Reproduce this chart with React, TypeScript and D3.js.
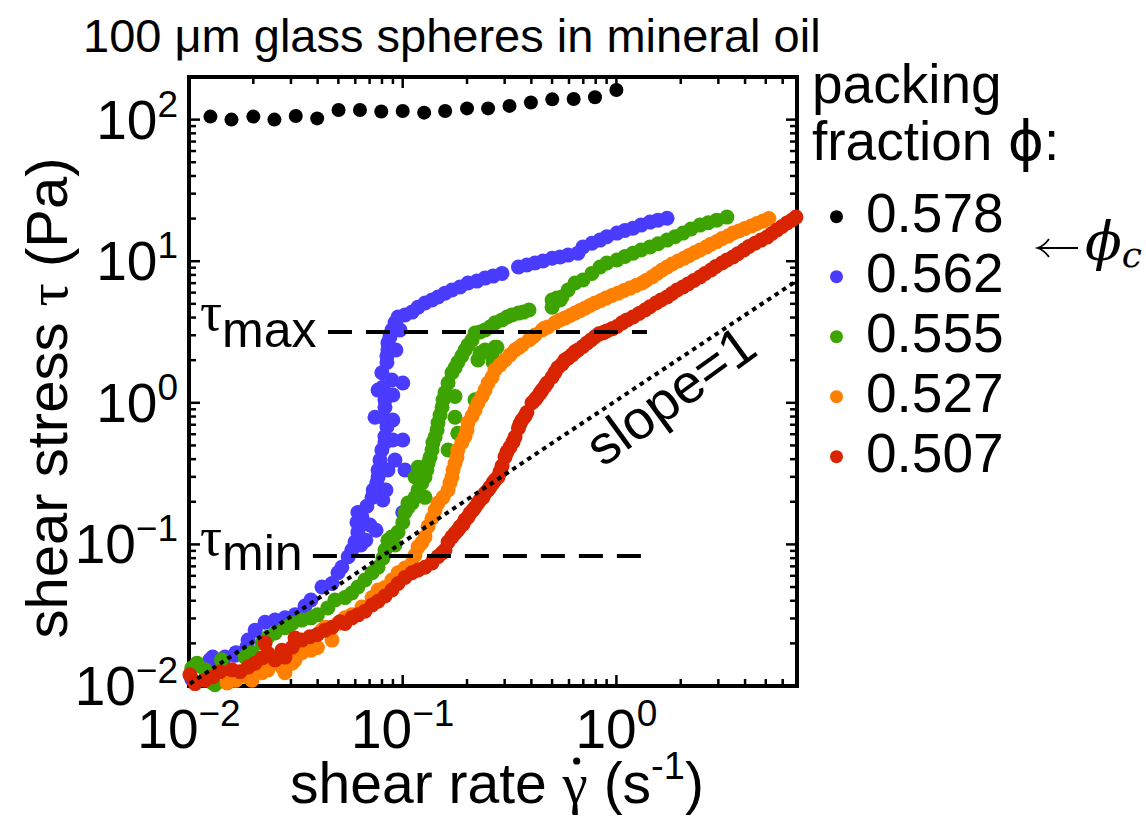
import React, { useLayoutEffect, useRef, useState } from 'react';
import * as d3 from 'd3';

// Flow curves: shear stress (Pa) against shear rate (1/s), one array per packing fraction.
const phi578: [number, number][] = [
  [0.0126, 105], [0.0158, 100], [0.02, 105], [0.0251, 100], [0.0316, 106], [0.0398, 102],
  [0.0501, 117], [0.0631, 117], [0.0794, 114], [0.1, 115], [0.126, 112], [0.158, 115],
  [0.2, 120], [0.251, 120], [0.316, 125], [0.398, 132], [0.501, 139], [0.631, 140],
  [0.794, 144], [1.0, 162],
];

const phi562: [number, number][] = [
  [0.0103, 0.0112], [0.0112, 0.014], [0.01254, 0.0153], [0.0129, 0.016], [0.01474, 0.016],
  [0.01642, 0.0165], [0.0166, 0.0172], [0.0187, 0.019], [0.0189, 0.0211], [0.0204, 0.0248],
  [0.02269, 0.0282], [0.02526, 0.0292], [0.02814, 0.0303], [0.03134, 0.0318], [0.0349, 0.0367],
  [0.0372, 0.0405], [0.0419, 0.05], [0.0467, 0.053], [0.0498, 0.063], [0.0519, 0.069],
  [0.0556, 0.0818], [0.0578, 0.0913], [0.0598, 0.104], [0.0617, 0.122], [0.0611, 0.143],
  [0.0644, 0.156], [0.0617, 0.168], [0.0679, 0.186], [0.0719, 0.215], [0.0728, 0.242],
  [0.0757, 0.272], [0.0767, 0.299], [0.0767, 0.335], [0.0783, 0.394], [0.0799, 0.464],
  [0.0826, 0.523], [0.0826, 0.578], [0.0844, 0.677], [0.0807, 0.79], [0.0742, 0.79],
  [0.0826, 0.93], [0.0826, 1.05], [0.0767, 1.23], [0.0807, 1.29], [0.0799, 1.63],
  [0.0844, 1.93], [0.0844, 2.14], [0.0853, 2.36], [0.0853, 2.65], [0.0872, 2.92],
  [0.089, 3.27], [0.092, 3.67], [0.0951, 4.04], [0.1025, 4.17], [0.1106, 4.37],
  [0.118, 4.74], [0.1272, 5.07], [0.1371, 5.32], [0.1463, 5.59], [0.1578, 5.95],
  [0.17, 6.26], [0.1854, 6.57], [0.202, 7.02], [0.2225, 7.24], [0.2427, 7.6],
  [0.2647, 7.85], [0.2915, 8.2], [0.348, 9.1], [0.381, 9.4], [0.416, 9.71],
  [0.4535, 10.04], [0.5, 10.5], [0.545, 10.7], [0.594, 11.05], [0.661, 11.4],
  [0.697, 12.6], [0.768, 13.4], [0.838, 14.1], [0.902, 14.9], [1.006, 15.8],
  [1.097, 16.5], [1.196, 17.1], [1.304, 18.0], [1.436, 18.9], [1.566, 19.5], [1.726, 20.1],
  [0.0899, 0.757], [0.0899, 0.546], [0.092, 0.394], [0.0853, 0.335], [0.0835, 0.242],
  [0.0807, 0.206], [0.075, 0.126], [0.0672, 0.107], [0.0703, 0.137], [0.0637, 0.0991],
  [0.089, 1.45], [0.0899, 1.136], [0.0929, 2.36], [0.0971, 3.27], [0.1001, 1.38],
  [0.1025, 0.335], [0.1001, 0.168], [0.1001, 0.546],
];

const phi555: [number, number][] = [
  [0.0103, 0.0134], [0.0109, 0.0145], [0.01188, 0.013], [0.0129, 0.0105], [0.01323, 0.0102],
  [0.0142, 0.0153], [0.0152, 0.0124], [0.01642, 0.011], [0.01829, 0.016], [0.0197, 0.0172],
  [0.022, 0.0201], [0.0234, 0.0222], [0.02526, 0.0237], [0.02814, 0.0258], [0.0304, 0.0276],
  [0.0337, 0.0292], [0.0372, 0.0303], [0.0399, 0.0318], [0.0446, 0.0356], [0.0482, 0.0405],
  [0.0537, 0.0421], [0.0578, 0.0454], [0.0617, 0.05], [0.0666, 0.0561], [0.0719, 0.063],
  [0.0767, 0.069], [0.0808, 0.08], [0.0826, 0.0913], [0.0853, 0.107], [0.089, 0.113],
  [0.0951, 0.122], [0.1001, 0.143], [0.1025, 0.168], [0.1058, 0.182], [0.1106, 0.196],
  [0.1142, 0.215], [0.118, 0.242], [0.123, 0.272], [0.1272, 0.299], [0.1297, 0.335],
  [0.1314, 0.373], [0.1342, 0.413], [0.1371, 0.464], [0.1385, 0.523], [0.1417, 0.573],
  [0.1448, 0.643], [0.1463, 0.722], [0.1495, 0.82], [0.1528, 0.93], [0.1545, 1.05],
  [0.1578, 1.18], [0.163, 1.38], [0.17, 1.63], [0.1757, 1.77], [0.181, 1.93],
  [0.189, 2.14], [0.1957, 2.36], [0.202, 2.56], [0.211, 2.78], [0.218, 3.11],
  [0.23, 3.16], [0.2427, 3.27], [0.2562, 3.43], [0.2704, 3.67], [0.2915, 3.85],
  [0.3077, 4.04], [0.3245, 4.17], [0.348, 4.3], [0.367, 4.37], [0.39, 4.52],
  [0.2427, 2.36], [0.262, 2.14], [0.225, 2.01], [0.2704, 2.47], [0.1757, 1.11],
  [0.1757, 0.79], [0.218, 1.05], [0.181, 0.61], [0.163, 0.464], [0.118, 0.35],
  [0.1142, 0.299], [0.1058, 0.196], [0.1272, 0.215], [0.23, 2.25], [0.276, 2.47],
  [0.265, 1.93], [0.092, 0.099],
  [0.5, 5.32], [0.5, 4.74], [0.527, 5.49], [0.545, 5.32], [0.556, 5.59], [0.594, 6.26],
  [0.64, 7.02], [0.697, 7.37], [0.768, 8.2], [0.838, 9.1], [0.902, 9.71], [1.006, 10.2],
  [1.097, 10.8], [1.196, 11.4], [1.304, 12.0], [1.436, 12.6], [1.566, 13.3], [1.726, 14.1],
  [1.881, 14.9], [2.049, 15.8], [2.234, 16.9], [2.46, 18.0], [2.69, 18.7], [2.95, 19.5],
  [3.29, 20.5],
];

const phi527: [number, number][] = [
  [0.0151, 0.0105], [0.0166, 0.011], [0.0187, 0.0116], [0.0199, 0.0124], [0.0197, 0.011],
  [0.022, 0.0124], [0.0234, 0.013], [0.0272, 0.0136], [0.02814, 0.0124], [0.0304, 0.0145],
  [0.03134, 0.0153], [0.0337, 0.0172], [0.0372, 0.0179], [0.0399, 0.0187], [0.0419, 0.0248],
  [0.04328, 0.026], [0.0467, 0.0211], [0.0498, 0.0276], [0.0537, 0.0303], [0.0578, 0.0318],
  [0.0644, 0.0361], [0.0719, 0.0421], [0.0767, 0.0476], [0.0826, 0.0496], [0.089, 0.0561],
  [0.0951, 0.063], [0.1025, 0.068], [0.1106, 0.0736], [0.1142, 0.0842], [0.118, 0.096],
  [0.123, 0.103], [0.1272, 0.113], [0.1314, 0.134], [0.1371, 0.153], [0.1417, 0.175],
  [0.1463, 0.196], [0.1545, 0.215], [0.163, 0.242], [0.1664, 0.272], [0.17, 0.299],
  [0.172, 0.335], [0.1757, 0.373], [0.1795, 0.413], [0.181, 0.464], [0.189, 0.523],
  [0.1957, 0.578], [0.2, 0.643], [0.202, 0.722], [0.211, 0.806], [0.218, 0.889],
  [0.225, 0.998], [0.235, 1.11], [0.2427, 1.23], [0.2508, 1.38], [0.262, 1.52],
  [0.2704, 1.71], [0.2853, 1.85], [0.3011, 2.01], [0.3178, 2.18], [0.3354, 2.36],
  [0.35, 2.46], [0.3617, 2.56], [0.39, 2.78], [0.405, 2.91], [0.416, 3.01],
  [0.449, 3.27], [0.4635, 3.38], [0.478, 3.43], [0.516, 3.67], [0.545, 3.85],
  [0.575, 3.97], [0.607, 4.14], [0.64, 4.3], [0.676, 4.48], [0.713, 4.66],
  [0.752, 4.87], [0.794, 5.07], [0.847, 5.28], [0.893, 5.49], [0.953, 5.72],
  [1.017, 5.95], [1.085, 6.21], [1.158, 6.46], [1.235, 6.74], [1.318, 7.02],
  [1.376, 7.31], [1.467, 7.73], [1.549, 8.19], [1.635, 8.66], [1.726, 9.1],
  [1.821, 9.55], [1.943, 10.04], [2.072, 10.5], [2.186, 10.96], [2.33, 11.52],
  [2.46, 12.0], [2.63, 12.58], [2.77, 13.2], [2.95, 13.76], [3.12, 14.45],
  [3.33, 15.05], [3.51, 15.8], [3.74, 16.33], [3.99, 17.0], [4.27, 17.7],
  [4.55, 18.45], [4.85, 19.2], [5.17, 20.0],
];

const phi507: [number, number][] = [
  [0.0101, 0.012], [0.01067, 0.0104], [0.01188, 0.011], [0.0129, 0.0116], [0.01397, 0.0126],
  [0.0159, 0.013], [0.01733, 0.0126], [0.0189, 0.0136], [0.02037, 0.0145], [0.022, 0.0158],
  [0.02269, 0.0201], [0.0234, 0.017], [0.02526, 0.0153], [0.0272, 0.0179], [0.02814, 0.016],
  [0.0304, 0.0188], [0.03134, 0.0218], [0.0337, 0.0211], [0.0368, 0.0223], [0.0399, 0.0231],
  [0.04328, 0.0248], [0.0467, 0.026], [0.0509, 0.0284], [0.0537, 0.0276], [0.0578, 0.0303],
  [0.0617, 0.0318], [0.0666, 0.0337], [0.0719, 0.0373], [0.0767, 0.0397], [0.0826, 0.0432],
  [0.089, 0.0476], [0.0951, 0.053], [0.1025, 0.0585], [0.1106, 0.063], [0.118, 0.0659],
  [0.1272, 0.069], [0.1371, 0.074], [0.1463, 0.082], [0.1528, 0.087], [0.1578, 0.0913],
  [0.163, 0.104], [0.17, 0.113], [0.1757, 0.12], [0.181, 0.126], [0.1854, 0.133],
  [0.1915, 0.139], [0.1957, 0.149], [0.202, 0.156], [0.2065, 0.166], [0.2132, 0.175],
  [0.218, 0.183], [0.225, 0.196], [0.23, 0.206], [0.2375, 0.215], [0.2427, 0.23],
  [0.2508, 0.242], [0.2562, 0.254], [0.2647, 0.272], [0.2704, 0.285], [0.2793, 0.299],
  [0.2853, 0.325], [0.2915, 0.358], [0.3011, 0.415], [0.3077, 0.45], [0.3178, 0.488],
  [0.3284, 0.53], [0.3354, 0.573], [0.348, 0.662], [0.354, 0.71], [0.3617, 0.757],
  [0.3736, 0.806], [0.381, 0.854], [0.403, 1.0], [0.416, 1.05], [0.425, 1.095],
  [0.439, 1.17], [0.449, 1.23], [0.4635, 1.31], [0.474, 1.38], [0.5, 1.52],
  [0.516, 1.64], [0.532, 1.77], [0.557, 1.88], [0.575, 2.01], [0.594, 2.07],
  [0.62, 2.18], [0.64, 2.29], [0.661, 2.36], [0.697, 2.5], [0.729, 2.65],
  [0.76, 2.78], [0.794, 2.93], [0.829, 3.07], [0.865, 3.12], [0.902, 3.22],
  [0.953, 3.33], [1.006, 3.46], [1.063, 3.67], [1.121, 3.85], [1.196, 4.04],
  [1.276, 4.27], [1.361, 4.52], [1.436, 4.77], [1.532, 5.07], [1.617, 5.32],
  [1.726, 5.59], [1.821, 5.91], [1.922, 6.26], [2.049, 6.57], [2.163, 6.9],
  [2.305, 7.31], [2.46, 7.73], [2.6, 8.19], [2.77, 8.66], [2.92, 9.17],
  [3.12, 9.71], [3.29, 10.2], [3.51, 10.7], [3.7, 11.3], [3.95, 12.0],
  [4.17, 12.7], [4.45, 13.4], [4.75, 14.1], [5.07, 14.8], [5.34, 15.7],
  [5.64, 16.6], [5.96, 17.6], [6.28, 18.6], [6.63, 19.5], [6.92, 20.5],
];

const packingLabels = ['0.578', '0.562', '0.555', '0.527', '0.507'];
const seriesColors = ['#000000', '#4a3cff', '#3da300', '#ff8000', '#d82400'];
const seriesData = [phi578, phi562, phi555, phi527, phi507];

// Reference guides
const rateDomain: [number, number] = [0.01, 7];
const stressDomain: [number, number] = [0.01, 200];
const rateMajor = [0.01, 0.1, 1];
const stressMajor = [0.01, 0.1, 1, 10, 100];
const tauMax = 3.16;
const tauMin = 0.0828;
const tauMaxSpan: [number, number] = [0.0447, 1.39];
const tauMinSpan: [number, number] = [0.038, 1.34];
const slopeLine: [number, number][] = [[0.0101, 0.0104], [7.0, 7.3]];

const SANS = 'Liberation Sans, Arial, Helvetica, sans-serif';
const SERIF = 'Liberation Serif, Times New Roman, serif';

const left = 189, right = 797, top = 77, bottom = 686;

const expLabel = (v: number) => {
  const e = Math.round(Math.log10(v));
  return e < 0 ? '\u2212' + -e : String(e);
};

export default function App() {
  const x = d3.scaleLog().domain(rateDomain).range([left, right]);
  const y = d3.scaleLog().domain(stressDomain).range([bottom, top]);

  const isMajor = (v: number, majors: number[]) => majors.some((m) => Math.abs(m - v) / m < 1e-6);
  const xMinor = x.ticks().filter((v) => !isMajor(v, rateMajor) && v < rateDomain[1] * 0.999);
  const yMinor = y.ticks().filter((v) => !isMajor(v, stressMajor) && v < stressDomain[1] * 0.999);

  const gammaRef = useRef<SVGTSpanElement>(null);
  const [dotX, setDotX] = useState(566);
  useLayoutEffect(() => {
    if (gammaRef.current) {
      const b = gammaRef.current.getBBox();
      setDotX(b.x + b.width / 2 + 2);
    }
  }, []);

  const line = d3
    .line<[number, number]>()
    .x((d) => x(d[0]))
    .y((d) => y(d[1]));

  const MAJ = 11, MIN = 7;

  return (
    <svg width={1146} height={818} style={{ position: 'absolute', left: 0, top: 0 }} fontFamily={SANS}>
      <rect x={0} y={0} width={1146} height={818} fill="#fff" />

      <text x={83} y={52} fontSize={47}>
        100 μm glass spheres in mineral oil
      </text>

      {/* ticks on all four sides, pointing inward */}
      <g stroke="#000" strokeWidth={2.5}>
        {rateMajor.map((v) => (
          <g key={'xm' + v}>
            <line x1={x(v)} x2={x(v)} y1={bottom} y2={bottom - MAJ} />
            <line x1={x(v)} x2={x(v)} y1={top} y2={top + MAJ} />
          </g>
        ))}
        {xMinor.map((v) => (
          <g key={'xn' + v}>
            <line x1={x(v)} x2={x(v)} y1={bottom} y2={bottom - MIN} />
            <line x1={x(v)} x2={x(v)} y1={top} y2={top + MIN} />
          </g>
        ))}
        {stressMajor.map((v) => (
          <g key={'ym' + v}>
            <line x1={left} x2={left + MAJ} y1={y(v)} y2={y(v)} />
            <line x1={right} x2={right - MAJ} y1={y(v)} y2={y(v)} />
          </g>
        ))}
        {yMinor.map((v) => (
          <g key={'yn' + v}>
            <line x1={left} x2={left + MIN} y1={y(v)} y2={y(v)} />
            <line x1={right} x2={right - MIN} y1={y(v)} y2={y(v)} />
          </g>
        ))}
      </g>
      <rect x={left} y={top} width={right - left} height={bottom - top} fill="none" stroke="#000" strokeWidth={4} />

      {/* tick labels */}
      {rateMajor.map((v) => (
        <text key={'xl' + v} x={x(v)} y={748} fontSize={55} textAnchor="middle">
          10
          <tspan fontSize={37} dy={-22}>
            {expLabel(v)}
          </tspan>
        </text>
      ))}
      {stressMajor.map((v) => (
        <text key={'yl' + v} x={178} y={y(v) + 19} fontSize={55} textAnchor="end">
          10
          <tspan fontSize={37} dy={-22}>
            {expLabel(v)}
          </tspan>
        </text>
      ))}

      {/* axis titles */}
      <text transform="translate(67,398) rotate(-90)" fontSize={58} textAnchor="middle">
        shear stress <tspan fontFamily={SERIF}>τ</tspan> (Pa)
      </text>
      <text x={497} y={803} fontSize={57} textAnchor="middle">
        shear rate{' '}
        <tspan ref={gammaRef} fontFamily={SERIF}>
          γ
        </tspan>{' '}
        (s
        <tspan fontSize={38} dy={-24}>
          -1
        </tspan>
        <tspan dy={24}>)</tspan>
      </text>
      <circle cx={dotX} cy={761} r={3.6} fill="#000" />

      {/* measured flow curves */}
      {seriesData.map((data, i) => (
        <g key={packingLabels[i]} fill={seriesColors[i]}>
          {data.map((d, j) => (
            <circle key={j} cx={x(d[0])} cy={y(d[1])} r={i === 0 ? 7 : 7.5} />
          ))}
        </g>
      ))}

      {/* slope = 1 guide */}
      <path d={line(slopeLine) || ''} stroke="#000" strokeWidth={4} strokeDasharray="4.5 4.5" fill="none" />
      <text transform="translate(603,468) rotate(-36)" fontSize={55}>
        slope=1
      </text>

      {/* stress bounds */}
      <line x1={x(tauMaxSpan[0])} x2={x(tauMaxSpan[1])} y1={y(tauMax)} y2={y(tauMax)} stroke="#000" strokeWidth={4} strokeDasharray="24 14" />
      <line x1={x(tauMinSpan[0])} x2={x(tauMinSpan[1])} y1={y(tauMin)} y2={y(tauMin)} stroke="#000" strokeWidth={4} strokeDasharray="24 14" />
      <text x={200} y={330} fontSize={55}>
        <tspan fontFamily={SERIF}>τ</tspan>
        <tspan fontSize={50} dy={17}>max</tspan>
      </text>
      <text x={200} y={555} fontSize={55}>
        <tspan fontFamily={SERIF}>τ</tspan>
        <tspan fontSize={50} dy={15}>min</tspan>
      </text>

      {/* legend */}
      <text x={812} y={103} fontSize={55}>
        packing
      </text>
      <text x={812} y={160} fontSize={55}>
        fraction <tspan fontFamily="DejaVu Sans">ϕ</tspan>:
      </text>
      {packingLabels.map((lab, i) => (
        <g key={'lg' + lab}>
          <circle cx={836.5} cy={216.7 + 60 * i} r={6.5} fill={seriesColors[i]} />
          <text x={866} y={232 + 60 * i} fontSize={55}>
            {lab}
          </text>
        </g>
      ))}

      {/* critical packing marker */}
      <g stroke="#000" strokeWidth={1.8} fill="none">
        <line x1={1038} y1={248} x2={1078} y2={248} />
        <path d="M1049,239 Q1044,246 1037.5,248 Q1044,250 1049,257" />
      </g>
      <text x={1085} y={260} fontSize={54} fontFamily="DejaVu Serif" fontStyle="italic">
        ϕ
        <tspan fontSize={36} dy={7}>c</tspan>
      </text>
    </svg>
  );
}
